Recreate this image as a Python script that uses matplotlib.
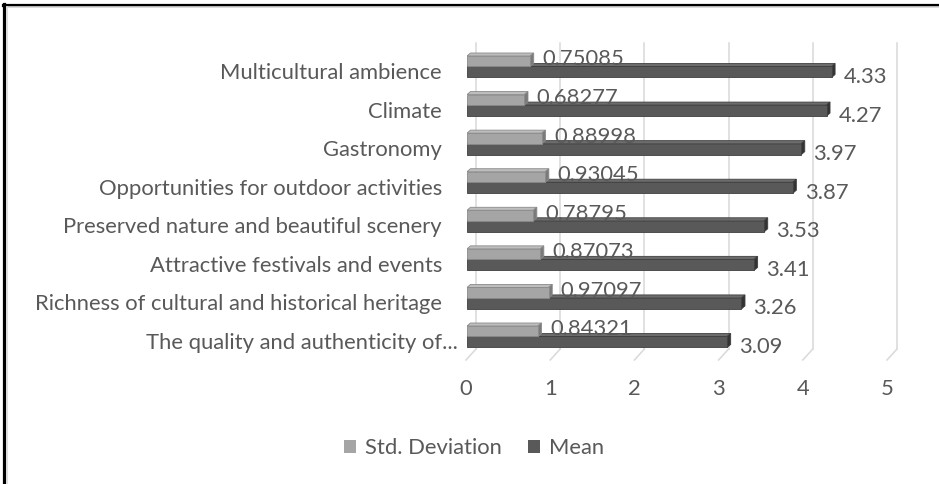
import matplotlib
matplotlib.use("Agg")
import matplotlib.pyplot as plt
from matplotlib.patches import Polygon, Patch
from matplotlib.lines import Line2D
import matplotlib.transforms as mtransforms

categories = [
    "Multicultural ambience",
    "Climate",
    "Gastronomy",
    "Opportunities for outdoor activities",
    "Preserved nature and beautiful scenery",
    "Attractive festivals and events",
    "Richness of cultural and historical heritage",
    "The quality and authenticity of...",
]
std_values = [0.75085, 0.68277, 0.88998, 0.93045, 0.78795, 0.87073, 0.97097, 0.84321]
mean_values = [4.33, 4.27, 3.97, 3.87, 3.53, 3.41, 3.26, 3.09]
std_labels = ["0.75085", "0.68277", "0.88998", "0.93045", "0.78795", "0.87073", "0.97097", "0.84321"]
mean_labels = ["4.33", "4.27", "3.97", "3.87", "3.53", "3.41", "3.26", "3.09"]
x_ticks = [0, 1, 2, 3, 4, 5]
series_names = ["Std. Deviation", "Mean"]

W, H = 939, 484
DPI = 100
FONT = "Lato"
TXT = "#595959"
FS = 15.8

fig = plt.figure(figsize=(W / DPI, H / DPI), dpi=DPI)
fig.patch.set_facecolor("white")

# axes in pixel coords
ax_l, ax_r, ax_t, ax_b = 467, 888, 43, 360
ax = fig.add_axes([ax_l / W, 1 - ax_b / H, (ax_r - ax_l) / W, (ax_b - ax_t) / H])
ax.set_facecolor("none")

xmin, xmax = 0, 5
cat0_px, cat_step_px = 66.5, 38.57
ymin = (ax_t - cat0_px) / cat_step_px
ymax = (ax_b - cat0_px) / cat_step_px
ax.set_xlim(xmin, xmax)
ax.set_ylim(ymax, ymin)

ppx = (ax_r - ax_l) / (xmax - xmin)
ppy = (ax_b - ax_t) / (ymax - ymin)
def dx(p):
    return p / ppx
def dy(p):
    return p / ppy

for s in ax.spines.values():
    s.set_visible(False)

# gridlines (back wall + floor oblique)
grid_c = "#d9d9d9"
back_dx, back_dy = 9, 11
for t in x_ticks:
    xb = t + dx(back_dx)
    ax.add_line(Line2D([xb, xb], [ymax - dy(back_dy), ymin], color=grid_c, lw=1.1, zorder=0, clip_on=False))
    ax.add_line(Line2D([t - dx(1), xb], [ymax, ymax - dy(back_dy)], color=grid_c, lw=1.1, zorder=0, clip_on=False))

std_h = dy(10.5)
mean_h = dy(11)
ddx, ddy = dx(3.5), dy(3)

def bar3d(yc, v, h, front, top, side, edge, z):
    yt = yc - h / 2
    yb = yc + h / 2
    ax.add_patch(Polygon([(0, yt), (v, yt), (v + ddx, yt - ddy), (ddx, yt - ddy)],
                         closed=True, facecolor=top, edgecolor=edge, lw=0.6, zorder=z - 0.5))
    ax.add_patch(Polygon([(v, yt), (v, yb), (v + ddx, yb - ddy), (v + ddx, yt - ddy)],
                         closed=True, facecolor=side, edgecolor=edge, lw=0.6, zorder=z))
    ax.barh([yc], [v], height=h, left=0, color=front, edgecolor=edge, linewidth=0.6, zorder=z)

std_front, std_top, std_side, std_edge = "#a5a5a5", "#bdbdbd", "#7a7a7a", "#8a8a8a"
mean_front, mean_top, mean_side, mean_edge = "#595959", "#6c6c6c", "#333333", "#3f3f3f"

for i, (sv, mv) in enumerate(zip(std_values, mean_values)):
    ys = i - std_h / 2
    ym = i + mean_h / 2
    bar3d(ym, mv, mean_h, mean_front, mean_top, mean_side, mean_edge, 3)
    bar3d(ys, sv, std_h, std_front, std_top, std_side, std_edge, 4)
    ax.text(sv + dx(12), i - dy(1), std_labels[i], ha="left", va="baseline",
            fontsize=FS, color=TXT, family=FONT, zorder=6)
    ax.text(mv + dx(12), i + dy(16.5), mean_labels[i], ha="left", va="baseline",
            fontsize=FS, color=TXT, family=FONT, zorder=6)

# x ticks
ax.set_xticks(x_ticks)
ax.set_xticklabels([str(t) for t in x_ticks])
ax.tick_params(axis="x", length=0, pad=14, labelsize=FS, labelcolor=TXT)
for lab in ax.get_xticklabels():
    lab.set_family(FONT)
    lab.set_transform(lab.get_transform() + mtransforms.ScaledTranslation(-1 / DPI, 0, fig.dpi_scale_trans))

# y ticks
ax.set_yticks(list(range(len(categories))))
ax.set_yticklabels(categories)
ax.tick_params(axis="y", length=0, pad=18, labelsize=FS, labelcolor=TXT)
for i, lab in enumerate(ax.get_yticklabels()):
    lab.set_family(FONT)
    extra = 16 if categories[i].endswith("...") else 0
    lab.set_transform(lab.get_transform() + mtransforms.ScaledTranslation(extra / DPI, -4.5 / DPI, fig.dpi_scale_trans))

# legend
handles = [Patch(facecolor=std_front, edgecolor="none"), Patch(facecolor=mean_front, edgecolor="none")]
fig.legend(handles, series_names, loc="center", bbox_to_anchor=(474 / W, 1 - 448 / H), ncol=2,
           frameon=False, handlelength=0.55, handleheight=0.55, handletextpad=0.4, columnspacing=1.2,
           prop={"family": FONT, "size": FS}, labelcolor=TXT)

# image border (top and left)
fig.add_artist(Line2D([3 / W, 1], [1 - 4.5 / H, 1 - 4.5 / H], transform=fig.transFigure, color="black", lw=2.3))
fig.add_artist(Line2D([4 / W, 4 / W], [0, 1 - 3.5 / H], transform=fig.transFigure, color="black", lw=2.3))
fig.add_artist(Line2D([6.5 / W, 1], [1 - 7 / H, 1 - 7 / H], transform=fig.transFigure, color="#d9d9d9", lw=1.2))
fig.add_artist(Line2D([6.5 / W, 6.5 / W], [0, 1 - 7 / H], transform=fig.transFigure, color="#d9d9d9", lw=1.2))

fig.savefig("out.png", dpi=DPI, facecolor="white")
